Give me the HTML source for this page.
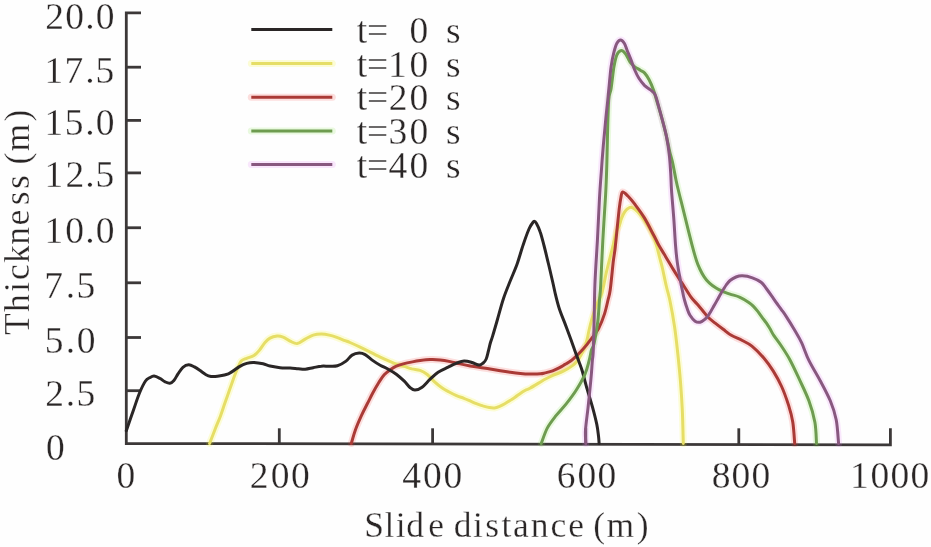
<!DOCTYPE html>
<html><head><meta charset="utf-8"><style>
html,body{margin:0;padding:0;background:#fefefe;}
body{width:931px;height:547px;overflow:hidden;font-family:"Liberation Serif",serif;}
svg{display:block;filter:blur(0.4px);}
</style></head><body>
<svg width="931" height="547" viewBox="0 0 931 547">
<rect width="931" height="547" fill="#fefefe"/>
<g stroke="#3c3838" stroke-width="2.8" fill="none" stroke-linecap="butt">
<path d="M141,12.9 H126.3 V443.5 L890.4,444.8 V428.3" stroke-linejoin="miter"/>
<path d="M126.3,67.2 H141"/>
<path d="M126.3,120.4 H141"/>
<path d="M126.3,172.9 H141"/>
<path d="M126.3,227.75 H141"/>
<path d="M126.3,282.8 H141"/>
<path d="M126.3,337.5 H141"/>
<path d="M126.3,390.7 H141"/>
<path d="M279.3,443.8 V428.3"/>
<path d="M432.6,444.0 V428.3"/>
<path d="M585.8,444.3 V428.3"/>
<path d="M738.8,444.5 V428.3"/>
</g>
<path d="M209.6,443.5 C210.6,441.0 213.5,433.3 215.3,428.7 C217.1,424.1 218.9,420.2 220.5,415.9 C222.1,411.6 223.4,407.4 224.9,403.1 C226.4,398.8 227.9,394.6 229.4,390.3 C230.9,386.1 232.6,381.2 233.9,377.6 C235.2,374.0 236.3,371.1 237.5,368.4 C238.7,365.6 239.7,362.8 241.2,361.1 C242.7,359.4 244.6,359.2 246.7,358.3 C248.8,357.4 251.9,357.0 254.0,355.6 C256.1,354.2 257.7,352.3 259.5,350.1 C261.3,347.9 263.2,344.5 265.0,342.5 C266.8,340.5 268.0,339.2 270.0,338.1 C272.0,337.0 274.9,336.3 277.1,336.1 C279.3,335.9 280.9,336.3 283.1,337.1 C285.3,337.9 287.8,340.0 290.1,341.1 C292.5,342.2 294.7,343.9 297.2,343.6 C299.7,343.3 302.5,340.5 305.2,339.1 C307.9,337.7 310.5,335.9 313.2,335.1 C315.9,334.3 318.6,334.1 321.3,334.1 C324.0,334.1 326.6,334.5 329.3,335.1 C332.0,335.7 334.8,336.7 337.4,337.6 C340.0,338.5 342.9,339.8 345.0,340.6 C347.1,341.4 347.5,341.4 350.0,342.5 C352.5,343.6 356.7,345.5 360.1,347.1 C363.5,348.7 366.9,350.4 370.2,352.1 C373.5,353.8 376.8,355.5 380.2,357.1 C383.6,358.7 387.5,360.4 390.3,361.6 C393.1,362.8 394.7,363.5 397.0,364.3 C399.3,365.1 401.8,365.6 404.3,366.4 C406.8,367.2 409.4,368.2 412.0,368.9 C414.6,369.5 417.4,369.4 420.0,370.3 C422.6,371.2 424.9,372.6 427.3,374.5 C429.7,376.4 432.2,379.6 434.6,381.8 C437.0,384.0 439.5,386.0 441.9,387.7 C444.3,389.4 446.8,390.7 449.2,392.0 C451.6,393.3 454.1,394.6 456.5,395.7 C458.9,396.8 461.6,397.4 463.9,398.3 C466.2,399.2 468.0,400.0 470.1,400.9 C472.2,401.8 474.3,402.9 476.4,403.7 C478.5,404.5 480.8,405.2 482.9,405.9 C485.0,406.5 487.4,407.3 489.3,407.6 C491.2,407.9 492.8,408.1 494.5,407.9 C496.2,407.7 497.9,407.0 499.6,406.3 C501.3,405.6 503.1,404.7 504.8,403.7 C506.5,402.7 508.3,401.6 510.0,400.5 C511.7,399.4 513.4,398.4 515.1,397.2 C516.8,396.0 518.6,394.6 520.3,393.4 C522.0,392.2 523.8,391.1 525.4,390.2 C527.0,389.3 526.7,390.0 530.0,388.2 C533.3,386.4 541.3,381.4 545.0,379.3 C548.7,377.2 549.2,377.0 552.3,375.6 C555.3,374.2 559.9,372.9 563.3,371.2 C566.7,369.5 570.5,367.1 572.8,365.4 C575.1,363.7 575.8,362.7 577.2,361.0 C578.6,359.3 579.8,357.2 581.0,355.0 C582.2,352.8 583.5,350.5 584.5,348.0 C585.5,345.5 586.2,343.0 587.0,340.0 C587.8,337.0 588.3,333.6 589.1,330.0 C589.9,326.4 590.8,322.8 592.0,318.6 C593.2,314.4 594.9,309.3 596.5,305.0 C598.1,300.7 600.2,298.6 601.9,293.0 C603.6,287.4 604.8,278.9 606.5,271.7 C608.2,264.5 610.3,256.5 612.0,249.8 C613.7,243.1 615.3,235.6 616.5,231.5 C617.7,227.4 618.5,227.7 619.3,225.5 C620.1,223.3 620.6,220.7 621.5,218.4 C622.4,216.1 623.6,213.4 624.7,211.8 C625.8,210.2 626.9,209.3 627.9,208.6 C628.9,207.8 629.8,207.2 631.0,207.3 C632.2,207.4 633.5,208.1 635.0,209.3 C636.5,210.5 638.3,212.3 640.0,214.3 C641.7,216.3 643.3,218.8 645.0,221.3 C646.7,223.8 648.5,226.7 650.0,229.5 C651.5,232.3 652.8,235.1 654.0,238.0 C655.2,240.9 656.1,243.8 657.0,247.0 C657.9,250.2 658.6,253.4 659.5,257.0 C660.4,260.6 661.4,263.6 662.5,268.5 C663.6,273.4 665.1,281.1 666.4,286.5 C667.6,291.9 668.6,294.2 670.0,301.0 C671.4,307.8 673.4,318.8 674.6,327.0 C675.8,335.2 676.4,340.8 677.4,350.0 C678.4,359.2 679.7,372.0 680.5,382.0 C681.3,392.0 681.8,399.8 682.3,410.0 C682.8,420.2 683.1,437.9 683.3,443.5" fill="none" stroke="#f4f000" stroke-opacity="0.16" stroke-width="7" stroke-linejoin="round" stroke-linecap="round"/>
<path d="M351.3,443.5 C352.0,441.2 353.7,434.5 355.4,429.9 C357.1,425.2 359.4,420.0 361.4,415.6 C363.4,411.2 365.4,407.5 367.3,403.8 C369.2,400.1 370.6,397.1 372.5,393.5 C374.4,389.9 376.9,385.6 378.8,382.5 C380.8,379.4 382.3,376.9 384.2,374.8 C386.1,372.7 388.3,371.1 390.3,369.7 C392.3,368.3 394.0,367.2 396.3,366.2 C398.6,365.2 401.6,364.3 404.3,363.6 C407.0,362.9 409.8,362.4 412.4,361.9 C415.0,361.4 417.2,361.0 420.1,360.6 C423.1,360.2 426.8,359.7 430.1,359.6 C433.5,359.5 436.9,359.6 440.2,359.9 C443.5,360.2 446.9,360.9 450.2,361.6 C453.5,362.3 456.9,363.2 460.2,363.9 C463.5,364.6 466.8,365.3 470.2,365.9 C473.6,366.5 477.0,367.0 480.3,367.5 C483.6,368.0 486.9,368.4 490.2,369.0 C493.5,369.6 496.9,370.2 500.3,370.8 C503.7,371.4 507.0,371.9 510.3,372.3 C513.6,372.7 517.1,373.1 520.4,373.4 C523.7,373.7 526.7,373.9 530.0,374.0 C533.3,374.1 537.9,374.0 540.4,373.8 C542.9,373.6 543.0,373.4 545.0,372.9 C547.0,372.4 550.2,371.7 552.6,370.8 C555.0,369.9 557.5,368.7 559.6,367.6 C561.7,366.5 563.2,365.5 565.0,364.4 C566.8,363.3 568.8,362.4 570.6,361.0 C572.4,359.6 574.2,357.9 576.0,356.3 C577.8,354.7 579.3,353.1 581.1,351.2 C582.9,349.2 585.2,346.7 586.9,344.6 C588.6,342.5 589.3,341.5 591.3,338.8 C593.3,336.1 596.5,332.5 598.7,328.3 C600.9,324.1 603.1,318.3 604.6,313.6 C606.1,308.9 607.1,303.9 608.0,300.0 C608.9,296.1 609.3,296.3 610.2,290.0 C611.1,283.7 612.4,269.1 613.2,262.2 C614.0,255.3 614.6,253.1 615.1,248.5 C615.6,243.9 616.0,239.4 616.5,234.8 C617.0,230.2 617.4,225.7 617.9,221.1 C618.4,216.5 618.9,211.4 619.4,207.4 C619.9,203.4 620.5,199.6 621.0,197.0 C621.5,194.4 621.6,192.2 622.7,192.0 C623.9,191.8 625.9,194.0 627.9,196.0 C629.9,198.0 632.0,200.5 634.8,204.2 C637.5,207.8 641.2,212.6 644.4,217.9 C647.6,223.2 651.6,231.3 654.0,235.8 C656.4,240.3 657.0,241.9 658.7,245.0 C660.4,248.1 662.3,251.0 664.1,254.1 C665.9,257.1 667.8,260.2 669.6,263.3 C671.4,266.4 673.4,269.7 675.1,272.4 C676.8,275.1 678.2,277.3 679.7,279.7 C681.2,282.1 682.3,283.6 684.2,286.5 C686.1,289.4 688.9,294.2 691.0,297.1 C693.1,300.0 695.1,301.8 697.1,304.1 C699.1,306.5 701.3,309.0 703.1,311.2 C704.9,313.4 706.1,315.2 708.1,317.2 C710.1,319.2 712.7,321.2 715.2,323.2 C717.7,325.2 720.5,327.3 723.2,329.3 C725.9,331.3 728.1,333.4 731.3,335.3 C734.5,337.2 738.9,338.7 742.3,340.5 C745.7,342.3 748.3,343.2 751.9,346.1 C755.5,349.0 760.2,353.8 763.8,358.0 C767.4,362.2 770.3,366.4 773.3,371.1 C776.3,375.9 779.0,380.8 781.6,386.5 C784.2,392.2 786.8,399.7 788.7,405.6 C790.6,411.6 791.8,415.9 792.8,422.2 C793.8,428.5 794.4,439.9 794.7,443.5" fill="none" stroke="#f03a30" stroke-opacity="0.16" stroke-width="7" stroke-linejoin="round" stroke-linecap="round"/>
<path d="M541.3,443.5 C542.3,440.9 544.9,432.5 547.4,427.9 C549.9,423.3 552.8,419.8 556.0,415.7 C559.2,411.6 563.0,407.9 566.4,403.6 C569.8,399.3 573.2,394.9 576.3,390.0 C579.4,385.1 582.9,379.0 585.0,374.1 C587.1,369.2 588.0,364.7 589.1,360.7 C590.2,356.7 590.7,352.9 591.5,350.0 C592.3,347.1 593.1,348.2 594.1,343.5 C595.1,338.8 596.9,328.8 597.8,321.5 C598.7,314.2 599.0,306.1 599.5,300.0 C600.0,293.9 600.2,294.9 600.7,285.0 C601.2,275.1 602.0,255.7 602.8,240.7 C603.6,225.7 604.9,207.6 605.6,195.0 C606.3,182.4 606.5,175.0 606.8,165.0 C607.1,155.0 607.2,145.8 607.5,135.0 C607.8,124.2 608.1,107.8 608.7,100.0 C609.3,92.2 610.2,94.1 611.1,88.5 C612.0,82.9 613.0,72.2 614.0,66.6 C615.0,61.0 615.7,57.6 616.9,54.9 C618.1,52.2 619.8,50.6 621.3,50.5 C622.8,50.4 624.2,52.1 625.7,54.1 C627.2,56.1 628.6,60.1 630.1,62.2 C631.6,64.3 632.8,65.3 634.5,66.6 C636.2,67.9 638.6,69.1 640.3,70.2 C642.0,71.3 643.2,71.5 644.7,73.1 C646.2,74.7 647.6,76.9 649.1,79.7 C650.6,82.5 652.3,86.6 653.5,90.0 C654.7,93.4 655.1,95.3 656.5,100.0 C657.9,104.7 660.2,112.2 661.9,118.3 C663.6,124.4 665.2,131.0 666.5,136.6 C667.8,142.2 668.7,147.4 669.8,152.0 C670.9,156.6 671.9,159.3 672.9,164.0 C673.9,168.7 675.1,175.7 676.0,180.0 C676.9,184.3 677.1,185.3 678.3,190.0 C679.4,194.7 681.4,202.2 682.9,208.3 C684.4,214.4 685.9,220.5 687.4,226.6 C688.9,232.7 690.5,239.1 692.0,244.8 C693.5,250.5 695.3,257.1 696.6,261.0 C697.9,264.9 698.4,265.9 699.6,268.5 C700.8,271.1 702.4,274.2 704.0,276.6 C705.6,279.1 707.5,281.3 709.5,283.2 C711.5,285.1 713.9,286.7 716.1,288.1 C718.3,289.5 720.3,290.4 722.6,291.4 C724.9,292.4 727.1,293.1 730.0,294.1 C732.9,295.1 736.9,295.9 740.0,297.3 C743.1,298.7 746.6,300.9 748.8,302.4 C751.0,303.9 751.7,304.6 753.2,306.1 C754.7,307.6 756.2,309.4 757.6,311.2 C759.0,313.0 760.5,315.2 761.9,317.1 C763.3,319.1 764.9,320.9 766.3,322.9 C767.6,324.8 768.7,326.7 770.0,328.8 C771.3,330.9 772.0,332.8 773.9,335.6 C775.8,338.4 778.5,341.7 781.2,345.8 C783.9,349.9 787.0,354.4 790.0,360.0 C793.0,365.6 796.2,372.6 799.4,379.4 C802.5,386.2 806.3,393.7 808.9,400.8 C811.5,407.9 813.6,415.1 814.9,422.2 C816.2,429.3 816.2,439.9 816.5,443.5" fill="none" stroke="#7ae040" stroke-opacity="0.16" stroke-width="7" stroke-linejoin="round" stroke-linecap="round"/>
<path d="M585.8,443.5 C585.8,441.2 585.1,436.1 585.5,430.0 C585.9,423.9 587.4,413.8 588.1,407.1 C588.8,400.4 589.3,395.5 589.9,389.7 C590.5,383.9 591.1,377.3 591.5,372.4 C591.9,367.4 592.1,363.4 592.4,360.0 C592.7,356.6 592.9,358.3 593.2,351.9 C593.5,345.5 593.8,332.6 594.1,321.5 C594.4,310.4 594.4,298.5 594.9,285.0 C595.4,271.5 596.6,254.9 597.4,240.7 C598.1,226.5 598.8,211.4 599.4,200.0 C600.0,188.6 600.6,181.1 601.3,172.0 C601.9,162.9 602.6,154.0 603.3,145.7 C604.0,137.4 604.8,129.6 605.5,122.0 C606.2,114.4 607.2,105.6 607.8,100.0 C608.4,94.4 608.3,94.1 608.9,88.5 C609.5,82.9 610.2,72.7 611.1,66.6 C612.0,60.5 613.0,55.8 614.0,51.9 C615.0,48.0 615.8,45.2 616.9,43.2 C618.0,41.2 619.4,39.9 620.6,39.9 C621.8,39.9 623.2,41.4 624.3,43.2 C625.4,45.0 626.1,47.8 627.2,50.5 C628.3,53.2 629.6,56.1 630.8,59.3 C632.0,62.5 633.1,66.3 634.5,69.5 C635.9,72.7 637.2,75.6 638.9,78.3 C640.6,81.0 642.8,83.6 644.7,85.6 C646.7,87.5 648.9,88.5 650.6,90.0 C652.3,91.5 653.8,92.1 655.0,94.4 C656.2,96.7 656.9,100.0 658.0,104.0 C659.1,108.0 660.5,112.9 661.9,118.3 C663.3,123.7 665.3,130.5 666.5,136.6 C667.7,142.7 668.6,148.7 669.3,154.8 C670.0,160.9 670.3,167.2 670.7,173.1 C671.1,179.0 671.0,182.6 671.5,190.0 C672.0,197.4 673.0,208.3 673.7,217.4 C674.4,226.5 674.9,237.2 675.5,244.8 C676.1,252.4 676.5,257.0 677.4,263.1 C678.2,269.2 679.8,276.9 680.6,281.5 C681.4,286.1 681.8,287.6 682.4,290.7 C683.0,293.8 683.7,297.1 684.5,300.0 C685.3,302.9 686.1,305.6 687.0,308.1 C687.9,310.6 688.6,313.0 690.0,315.2 C691.4,317.4 693.4,320.0 695.1,321.2 C696.8,322.4 698.4,322.5 700.1,322.2 C701.8,321.9 703.6,320.5 705.1,319.2 C706.6,317.9 707.8,316.2 709.1,314.2 C710.5,312.2 711.9,309.5 713.2,307.1 C714.6,304.8 715.9,302.5 717.2,300.1 C718.5,297.8 719.7,295.5 721.2,293.0 C722.7,290.5 724.7,287.1 726.2,285.0 C727.7,282.9 728.4,281.8 730.0,280.5 C731.6,279.2 734.0,277.8 736.0,277.0 C738.0,276.2 739.6,275.7 742.3,275.8 C745.0,275.9 749.3,276.7 752.4,277.8 C755.5,278.9 758.8,280.4 761.1,282.2 C763.4,284.0 764.5,286.2 766.3,288.5 C768.0,290.8 769.9,293.4 771.6,295.8 C773.3,298.2 775.0,300.8 776.6,303.0 C778.2,305.2 779.6,307.0 781.2,309.3 C782.8,311.6 784.1,313.2 786.3,316.6 C788.5,320.0 791.8,325.3 794.4,329.7 C797.0,334.1 799.3,337.8 801.7,342.9 C804.1,348.0 805.7,353.9 808.9,360.4 C812.1,366.9 817.2,375.1 820.8,381.8 C824.4,388.5 827.7,394.5 830.3,400.8 C832.9,407.1 834.8,412.7 836.2,419.8 C837.6,426.9 838.2,439.6 838.6,443.5" fill="none" stroke="#e070f0" stroke-opacity="0.16" stroke-width="7" stroke-linejoin="round" stroke-linecap="round"/>
<path d="M209.6,443.5 C210.6,441.0 213.5,433.3 215.3,428.7 C217.1,424.1 218.9,420.2 220.5,415.9 C222.1,411.6 223.4,407.4 224.9,403.1 C226.4,398.8 227.9,394.6 229.4,390.3 C230.9,386.1 232.6,381.2 233.9,377.6 C235.2,374.0 236.3,371.1 237.5,368.4 C238.7,365.6 239.7,362.8 241.2,361.1 C242.7,359.4 244.6,359.2 246.7,358.3 C248.8,357.4 251.9,357.0 254.0,355.6 C256.1,354.2 257.7,352.3 259.5,350.1 C261.3,347.9 263.2,344.5 265.0,342.5 C266.8,340.5 268.0,339.2 270.0,338.1 C272.0,337.0 274.9,336.3 277.1,336.1 C279.3,335.9 280.9,336.3 283.1,337.1 C285.3,337.9 287.8,340.0 290.1,341.1 C292.5,342.2 294.7,343.9 297.2,343.6 C299.7,343.3 302.5,340.5 305.2,339.1 C307.9,337.7 310.5,335.9 313.2,335.1 C315.9,334.3 318.6,334.1 321.3,334.1 C324.0,334.1 326.6,334.5 329.3,335.1 C332.0,335.7 334.8,336.7 337.4,337.6 C340.0,338.5 342.9,339.8 345.0,340.6 C347.1,341.4 347.5,341.4 350.0,342.5 C352.5,343.6 356.7,345.5 360.1,347.1 C363.5,348.7 366.9,350.4 370.2,352.1 C373.5,353.8 376.8,355.5 380.2,357.1 C383.6,358.7 387.5,360.4 390.3,361.6 C393.1,362.8 394.7,363.5 397.0,364.3 C399.3,365.1 401.8,365.6 404.3,366.4 C406.8,367.2 409.4,368.2 412.0,368.9 C414.6,369.5 417.4,369.4 420.0,370.3 C422.6,371.2 424.9,372.6 427.3,374.5 C429.7,376.4 432.2,379.6 434.6,381.8 C437.0,384.0 439.5,386.0 441.9,387.7 C444.3,389.4 446.8,390.7 449.2,392.0 C451.6,393.3 454.1,394.6 456.5,395.7 C458.9,396.8 461.6,397.4 463.9,398.3 C466.2,399.2 468.0,400.0 470.1,400.9 C472.2,401.8 474.3,402.9 476.4,403.7 C478.5,404.5 480.8,405.2 482.9,405.9 C485.0,406.5 487.4,407.3 489.3,407.6 C491.2,407.9 492.8,408.1 494.5,407.9 C496.2,407.7 497.9,407.0 499.6,406.3 C501.3,405.6 503.1,404.7 504.8,403.7 C506.5,402.7 508.3,401.6 510.0,400.5 C511.7,399.4 513.4,398.4 515.1,397.2 C516.8,396.0 518.6,394.6 520.3,393.4 C522.0,392.2 523.8,391.1 525.4,390.2 C527.0,389.3 526.7,390.0 530.0,388.2 C533.3,386.4 541.3,381.4 545.0,379.3 C548.7,377.2 549.2,377.0 552.3,375.6 C555.3,374.2 559.9,372.9 563.3,371.2 C566.7,369.5 570.5,367.1 572.8,365.4 C575.1,363.7 575.8,362.7 577.2,361.0 C578.6,359.3 579.8,357.2 581.0,355.0 C582.2,352.8 583.5,350.5 584.5,348.0 C585.5,345.5 586.2,343.0 587.0,340.0 C587.8,337.0 588.3,333.6 589.1,330.0 C589.9,326.4 590.8,322.8 592.0,318.6 C593.2,314.4 594.9,309.3 596.5,305.0 C598.1,300.7 600.2,298.6 601.9,293.0 C603.6,287.4 604.8,278.9 606.5,271.7 C608.2,264.5 610.3,256.5 612.0,249.8 C613.7,243.1 615.3,235.6 616.5,231.5 C617.7,227.4 618.5,227.7 619.3,225.5 C620.1,223.3 620.6,220.7 621.5,218.4 C622.4,216.1 623.6,213.4 624.7,211.8 C625.8,210.2 626.9,209.3 627.9,208.6 C628.9,207.8 629.8,207.2 631.0,207.3 C632.2,207.4 633.5,208.1 635.0,209.3 C636.5,210.5 638.3,212.3 640.0,214.3 C641.7,216.3 643.3,218.8 645.0,221.3 C646.7,223.8 648.5,226.7 650.0,229.5 C651.5,232.3 652.8,235.1 654.0,238.0 C655.2,240.9 656.1,243.8 657.0,247.0 C657.9,250.2 658.6,253.4 659.5,257.0 C660.4,260.6 661.4,263.6 662.5,268.5 C663.6,273.4 665.1,281.1 666.4,286.5 C667.6,291.9 668.6,294.2 670.0,301.0 C671.4,307.8 673.4,318.8 674.6,327.0 C675.8,335.2 676.4,340.8 677.4,350.0 C678.4,359.2 679.7,372.0 680.5,382.0 C681.3,392.0 681.8,399.8 682.3,410.0 C682.8,420.2 683.1,437.9 683.3,443.5" fill="none" stroke="#e6de66" stroke-width="3" stroke-linejoin="round" stroke-linecap="round"/>
<path d="M351.3,443.5 C352.0,441.2 353.7,434.5 355.4,429.9 C357.1,425.2 359.4,420.0 361.4,415.6 C363.4,411.2 365.4,407.5 367.3,403.8 C369.2,400.1 370.6,397.1 372.5,393.5 C374.4,389.9 376.9,385.6 378.8,382.5 C380.8,379.4 382.3,376.9 384.2,374.8 C386.1,372.7 388.3,371.1 390.3,369.7 C392.3,368.3 394.0,367.2 396.3,366.2 C398.6,365.2 401.6,364.3 404.3,363.6 C407.0,362.9 409.8,362.4 412.4,361.9 C415.0,361.4 417.2,361.0 420.1,360.6 C423.1,360.2 426.8,359.7 430.1,359.6 C433.5,359.5 436.9,359.6 440.2,359.9 C443.5,360.2 446.9,360.9 450.2,361.6 C453.5,362.3 456.9,363.2 460.2,363.9 C463.5,364.6 466.8,365.3 470.2,365.9 C473.6,366.5 477.0,367.0 480.3,367.5 C483.6,368.0 486.9,368.4 490.2,369.0 C493.5,369.6 496.9,370.2 500.3,370.8 C503.7,371.4 507.0,371.9 510.3,372.3 C513.6,372.7 517.1,373.1 520.4,373.4 C523.7,373.7 526.7,373.9 530.0,374.0 C533.3,374.1 537.9,374.0 540.4,373.8 C542.9,373.6 543.0,373.4 545.0,372.9 C547.0,372.4 550.2,371.7 552.6,370.8 C555.0,369.9 557.5,368.7 559.6,367.6 C561.7,366.5 563.2,365.5 565.0,364.4 C566.8,363.3 568.8,362.4 570.6,361.0 C572.4,359.6 574.2,357.9 576.0,356.3 C577.8,354.7 579.3,353.1 581.1,351.2 C582.9,349.2 585.2,346.7 586.9,344.6 C588.6,342.5 589.3,341.5 591.3,338.8 C593.3,336.1 596.5,332.5 598.7,328.3 C600.9,324.1 603.1,318.3 604.6,313.6 C606.1,308.9 607.1,303.9 608.0,300.0 C608.9,296.1 609.3,296.3 610.2,290.0 C611.1,283.7 612.4,269.1 613.2,262.2 C614.0,255.3 614.6,253.1 615.1,248.5 C615.6,243.9 616.0,239.4 616.5,234.8 C617.0,230.2 617.4,225.7 617.9,221.1 C618.4,216.5 618.9,211.4 619.4,207.4 C619.9,203.4 620.5,199.6 621.0,197.0 C621.5,194.4 621.6,192.2 622.7,192.0 C623.9,191.8 625.9,194.0 627.9,196.0 C629.9,198.0 632.0,200.5 634.8,204.2 C637.5,207.8 641.2,212.6 644.4,217.9 C647.6,223.2 651.6,231.3 654.0,235.8 C656.4,240.3 657.0,241.9 658.7,245.0 C660.4,248.1 662.3,251.0 664.1,254.1 C665.9,257.1 667.8,260.2 669.6,263.3 C671.4,266.4 673.4,269.7 675.1,272.4 C676.8,275.1 678.2,277.3 679.7,279.7 C681.2,282.1 682.3,283.6 684.2,286.5 C686.1,289.4 688.9,294.2 691.0,297.1 C693.1,300.0 695.1,301.8 697.1,304.1 C699.1,306.5 701.3,309.0 703.1,311.2 C704.9,313.4 706.1,315.2 708.1,317.2 C710.1,319.2 712.7,321.2 715.2,323.2 C717.7,325.2 720.5,327.3 723.2,329.3 C725.9,331.3 728.1,333.4 731.3,335.3 C734.5,337.2 738.9,338.7 742.3,340.5 C745.7,342.3 748.3,343.2 751.9,346.1 C755.5,349.0 760.2,353.8 763.8,358.0 C767.4,362.2 770.3,366.4 773.3,371.1 C776.3,375.9 779.0,380.8 781.6,386.5 C784.2,392.2 786.8,399.7 788.7,405.6 C790.6,411.6 791.8,415.9 792.8,422.2 C793.8,428.5 794.4,439.9 794.7,443.5" fill="none" stroke="#aa3a36" stroke-width="3" stroke-linejoin="round" stroke-linecap="round"/>
<path d="M126.3,430.7 C127.5,427.2 131.3,416.3 133.5,410.0 C135.7,403.7 137.5,397.8 139.5,393.0 C141.5,388.2 143.8,383.5 145.5,381.0 C147.2,378.5 148.1,378.6 149.5,377.8 C150.9,377.0 152.4,375.9 154.1,376.0 C155.8,376.1 158.1,377.4 159.9,378.4 C161.7,379.3 163.2,380.9 164.8,381.7 C166.5,382.5 168.3,383.5 169.8,383.3 C171.3,383.1 172.5,382.1 173.9,380.5 C175.3,378.9 176.5,376.1 178.0,373.9 C179.5,371.7 181.1,368.8 182.9,367.3 C184.7,365.8 186.8,364.9 188.7,364.8 C190.6,364.7 192.5,365.9 194.4,366.9 C196.3,367.9 198.3,369.3 200.2,370.6 C202.1,371.9 204.2,373.7 206.0,374.7 C207.8,375.7 209.1,376.1 211.0,376.4 C212.9,376.6 214.5,376.6 217.4,376.2 C220.3,375.8 224.7,375.5 228.4,373.9 C232.1,372.3 236.4,368.4 239.4,366.6 C242.4,364.9 244.3,364.1 246.7,363.4 C249.1,362.7 251.3,362.4 254.0,362.5 C256.7,362.6 260.4,363.2 263.1,363.8 C265.8,364.4 267.2,365.4 270.0,366.0 C272.8,366.6 276.8,367.4 280.1,367.7 C283.5,368.0 287.1,367.8 290.1,368.0 C293.1,368.2 295.7,368.5 298.2,368.7 C300.7,368.9 302.7,369.4 305.2,369.2 C307.7,369.0 310.5,368.2 313.2,367.7 C315.9,367.2 318.6,366.4 321.3,366.2 C324.0,365.9 326.6,366.3 329.3,366.2 C332.0,366.1 334.6,366.5 337.4,365.7 C340.2,364.9 343.6,362.9 346.0,361.1 C348.4,359.3 349.9,356.4 352.1,355.1 C354.3,353.8 356.9,353.2 359.1,353.1 C361.3,353.0 362.9,353.4 365.1,354.6 C367.3,355.8 369.7,358.3 372.2,360.1 C374.7,361.9 377.5,363.7 380.2,365.2 C382.9,366.7 385.5,367.7 388.2,369.2 C390.9,370.7 393.6,372.2 396.3,374.2 C399.0,376.2 402.0,379.0 404.3,381.2 C406.6,383.4 408.2,386.0 410.0,387.5 C411.8,389.0 413.0,390.2 415.0,390.1 C417.0,390.1 419.6,389.0 422.1,387.2 C424.6,385.4 427.4,381.7 430.1,379.2 C432.8,376.7 435.1,374.2 438.1,372.2 C441.1,370.2 445.2,368.6 448.2,367.1 C451.2,365.6 453.5,364.3 456.2,363.3 C458.9,362.3 461.5,361.1 464.1,361.0 C466.8,360.9 469.6,361.8 472.1,362.5 C474.6,363.2 477.2,365.0 479.1,365.1 C481.0,365.2 482.0,364.0 483.2,363.0 C484.4,362.0 485.3,361.0 486.2,359.0 C487.1,357.0 487.7,353.6 488.4,351.0 C489.1,348.4 489.5,346.0 490.2,343.5 C490.9,341.0 491.4,340.0 492.6,336.1 C493.8,332.2 495.5,326.3 497.3,320.0 C499.1,313.7 501.3,305.1 503.5,298.5 C505.7,291.9 508.2,286.1 510.5,280.3 C512.8,274.5 515.2,269.5 517.3,263.5 C519.4,257.5 521.3,250.2 523.3,244.5 C525.2,238.8 527.5,232.5 529.0,229.0 C530.5,225.5 531.4,224.6 532.3,223.3 C533.2,222.0 533.5,221.3 534.2,221.3 C534.9,221.3 535.5,221.7 536.5,223.5 C537.5,225.3 539.0,228.3 540.2,232.0 C541.5,235.7 542.6,240.2 544.0,245.5 C545.4,250.8 547.0,257.9 548.5,264.0 C550.0,270.1 551.5,276.9 552.7,282.0 C553.9,287.1 554.4,290.1 555.5,294.6 C556.6,299.2 557.9,304.4 559.5,309.3 C561.1,314.2 563.2,318.9 565.1,323.9 C567.0,328.9 569.3,335.1 570.9,339.5 C572.5,343.9 573.3,346.3 574.6,350.0 C575.9,353.7 577.6,357.9 578.9,361.5 C580.2,365.1 581.0,366.8 582.4,371.5 C583.8,376.2 585.6,383.8 587.3,389.7 C589.0,395.6 590.9,401.3 592.5,407.1 C594.1,412.9 595.8,419.6 596.8,424.4 C597.8,429.2 598.1,432.8 598.5,436.0 C598.9,439.2 599.0,442.2 599.1,443.5" fill="none" stroke="#2a2626" stroke-width="3" stroke-linejoin="round" stroke-linecap="round"/>
<path d="M541.3,443.5 C542.3,440.9 544.9,432.5 547.4,427.9 C549.9,423.3 552.8,419.8 556.0,415.7 C559.2,411.6 563.0,407.9 566.4,403.6 C569.8,399.3 573.2,394.9 576.3,390.0 C579.4,385.1 582.9,379.0 585.0,374.1 C587.1,369.2 588.0,364.7 589.1,360.7 C590.2,356.7 590.7,352.9 591.5,350.0 C592.3,347.1 593.1,348.2 594.1,343.5 C595.1,338.8 596.9,328.8 597.8,321.5 C598.7,314.2 599.0,306.1 599.5,300.0 C600.0,293.9 600.2,294.9 600.7,285.0 C601.2,275.1 602.0,255.7 602.8,240.7 C603.6,225.7 604.9,207.6 605.6,195.0 C606.3,182.4 606.5,175.0 606.8,165.0 C607.1,155.0 607.2,145.8 607.5,135.0 C607.8,124.2 608.1,107.8 608.7,100.0 C609.3,92.2 610.2,94.1 611.1,88.5 C612.0,82.9 613.0,72.2 614.0,66.6 C615.0,61.0 615.7,57.6 616.9,54.9 C618.1,52.2 619.8,50.6 621.3,50.5 C622.8,50.4 624.2,52.1 625.7,54.1 C627.2,56.1 628.6,60.1 630.1,62.2 C631.6,64.3 632.8,65.3 634.5,66.6 C636.2,67.9 638.6,69.1 640.3,70.2 C642.0,71.3 643.2,71.5 644.7,73.1 C646.2,74.7 647.6,76.9 649.1,79.7 C650.6,82.5 652.3,86.6 653.5,90.0 C654.7,93.4 655.1,95.3 656.5,100.0 C657.9,104.7 660.2,112.2 661.9,118.3 C663.6,124.4 665.2,131.0 666.5,136.6 C667.8,142.2 668.7,147.4 669.8,152.0 C670.9,156.6 671.9,159.3 672.9,164.0 C673.9,168.7 675.1,175.7 676.0,180.0 C676.9,184.3 677.1,185.3 678.3,190.0 C679.4,194.7 681.4,202.2 682.9,208.3 C684.4,214.4 685.9,220.5 687.4,226.6 C688.9,232.7 690.5,239.1 692.0,244.8 C693.5,250.5 695.3,257.1 696.6,261.0 C697.9,264.9 698.4,265.9 699.6,268.5 C700.8,271.1 702.4,274.2 704.0,276.6 C705.6,279.1 707.5,281.3 709.5,283.2 C711.5,285.1 713.9,286.7 716.1,288.1 C718.3,289.5 720.3,290.4 722.6,291.4 C724.9,292.4 727.1,293.1 730.0,294.1 C732.9,295.1 736.9,295.9 740.0,297.3 C743.1,298.7 746.6,300.9 748.8,302.4 C751.0,303.9 751.7,304.6 753.2,306.1 C754.7,307.6 756.2,309.4 757.6,311.2 C759.0,313.0 760.5,315.2 761.9,317.1 C763.3,319.1 764.9,320.9 766.3,322.9 C767.6,324.8 768.7,326.7 770.0,328.8 C771.3,330.9 772.0,332.8 773.9,335.6 C775.8,338.4 778.5,341.7 781.2,345.8 C783.9,349.9 787.0,354.4 790.0,360.0 C793.0,365.6 796.2,372.6 799.4,379.4 C802.5,386.2 806.3,393.7 808.9,400.8 C811.5,407.9 813.6,415.1 814.9,422.2 C816.2,429.3 816.2,439.9 816.5,443.5" fill="none" stroke="#6e9c50" stroke-width="3" stroke-linejoin="round" stroke-linecap="round"/>
<path d="M585.8,443.5 C585.8,441.2 585.1,436.1 585.5,430.0 C585.9,423.9 587.4,413.8 588.1,407.1 C588.8,400.4 589.3,395.5 589.9,389.7 C590.5,383.9 591.1,377.3 591.5,372.4 C591.9,367.4 592.1,363.4 592.4,360.0 C592.7,356.6 592.9,358.3 593.2,351.9 C593.5,345.5 593.8,332.6 594.1,321.5 C594.4,310.4 594.4,298.5 594.9,285.0 C595.4,271.5 596.6,254.9 597.4,240.7 C598.1,226.5 598.8,211.4 599.4,200.0 C600.0,188.6 600.6,181.1 601.3,172.0 C601.9,162.9 602.6,154.0 603.3,145.7 C604.0,137.4 604.8,129.6 605.5,122.0 C606.2,114.4 607.2,105.6 607.8,100.0 C608.4,94.4 608.3,94.1 608.9,88.5 C609.5,82.9 610.2,72.7 611.1,66.6 C612.0,60.5 613.0,55.8 614.0,51.9 C615.0,48.0 615.8,45.2 616.9,43.2 C618.0,41.2 619.4,39.9 620.6,39.9 C621.8,39.9 623.2,41.4 624.3,43.2 C625.4,45.0 626.1,47.8 627.2,50.5 C628.3,53.2 629.6,56.1 630.8,59.3 C632.0,62.5 633.1,66.3 634.5,69.5 C635.9,72.7 637.2,75.6 638.9,78.3 C640.6,81.0 642.8,83.6 644.7,85.6 C646.7,87.5 648.9,88.5 650.6,90.0 C652.3,91.5 653.8,92.1 655.0,94.4 C656.2,96.7 656.9,100.0 658.0,104.0 C659.1,108.0 660.5,112.9 661.9,118.3 C663.3,123.7 665.3,130.5 666.5,136.6 C667.7,142.7 668.6,148.7 669.3,154.8 C670.0,160.9 670.3,167.2 670.7,173.1 C671.1,179.0 671.0,182.6 671.5,190.0 C672.0,197.4 673.0,208.3 673.7,217.4 C674.4,226.5 674.9,237.2 675.5,244.8 C676.1,252.4 676.5,257.0 677.4,263.1 C678.2,269.2 679.8,276.9 680.6,281.5 C681.4,286.1 681.8,287.6 682.4,290.7 C683.0,293.8 683.7,297.1 684.5,300.0 C685.3,302.9 686.1,305.6 687.0,308.1 C687.9,310.6 688.6,313.0 690.0,315.2 C691.4,317.4 693.4,320.0 695.1,321.2 C696.8,322.4 698.4,322.5 700.1,322.2 C701.8,321.9 703.6,320.5 705.1,319.2 C706.6,317.9 707.8,316.2 709.1,314.2 C710.5,312.2 711.9,309.5 713.2,307.1 C714.6,304.8 715.9,302.5 717.2,300.1 C718.5,297.8 719.7,295.5 721.2,293.0 C722.7,290.5 724.7,287.1 726.2,285.0 C727.7,282.9 728.4,281.8 730.0,280.5 C731.6,279.2 734.0,277.8 736.0,277.0 C738.0,276.2 739.6,275.7 742.3,275.8 C745.0,275.9 749.3,276.7 752.4,277.8 C755.5,278.9 758.8,280.4 761.1,282.2 C763.4,284.0 764.5,286.2 766.3,288.5 C768.0,290.8 769.9,293.4 771.6,295.8 C773.3,298.2 775.0,300.8 776.6,303.0 C778.2,305.2 779.6,307.0 781.2,309.3 C782.8,311.6 784.1,313.2 786.3,316.6 C788.5,320.0 791.8,325.3 794.4,329.7 C797.0,334.1 799.3,337.8 801.7,342.9 C804.1,348.0 805.7,353.9 808.9,360.4 C812.1,366.9 817.2,375.1 820.8,381.8 C824.4,388.5 827.7,394.5 830.3,400.8 C832.9,407.1 834.8,412.7 836.2,419.8 C837.6,426.9 838.2,439.6 838.6,443.5" fill="none" stroke="#88587f" stroke-width="3" stroke-linejoin="round" stroke-linecap="round"/>
<path d="M251.3,29.6 H332.3" stroke="#2a2626" stroke-width="3"/>
<path d="M251.3,63.4 H332.3" stroke="#f4f000" stroke-opacity="0.16" stroke-width="7" stroke-linecap="round"/>
<path d="M251.3,63.4 H332.3" stroke="#e6de66" stroke-width="3"/>
<path d="M251.3,97.3 H332.3" stroke="#f03a30" stroke-opacity="0.16" stroke-width="7" stroke-linecap="round"/>
<path d="M251.3,97.3 H332.3" stroke="#aa3a36" stroke-width="3"/>
<path d="M251.3,131.0 H332.3" stroke="#7ae040" stroke-opacity="0.16" stroke-width="7" stroke-linecap="round"/>
<path d="M251.3,131.0 H332.3" stroke="#6e9c50" stroke-width="3"/>
<path d="M251.3,164.5 H332.3" stroke="#e070f0" stroke-opacity="0.16" stroke-width="7" stroke-linecap="round"/>
<path d="M251.3,164.5 H332.3" stroke="#88587f" stroke-width="3"/>
<g font-family="Liberation Serif" fill="#2a2626" stroke="#fefefe" stroke-width="0.3">
<text x="45.14 65.22 85.21 95.83" y="28.5" font-size="37.5">20.0</text>
<text x="44.40 64.53 85.21 95.47" y="82.9" font-size="37.5">17.5</text>
<text x="44.40 64.87 85.21 95.83" y="135.4" font-size="37.5">15.0</text>
<text x="44.40 65.44 85.21 95.47" y="187.0" font-size="37.5">12.5</text>
<text x="44.40 65.22 85.21 95.83" y="242.7" font-size="37.5">10.0</text>
<text x="44.33 65.71 76.47" y="297.9" font-size="37.5">7.5</text>
<text x="44.67 65.71 76.83" y="353.1" font-size="37.5">5.0</text>
<text x="45.24 65.71 76.47" y="405.6" font-size="37.5">2.5</text>
<text x="46.12" y="460.1" font-size="37.5">0</text>
<text x="116.53" y="488.4" font-size="37.5">0</text>
<text x="249.74 270.82 291.02" y="488.4" font-size="37.5">200</text>
<text x="402.35 423.12 443.62" y="488.4" font-size="37.5">400</text>
<text x="556.68 577.42 597.62" y="488.4" font-size="37.5">600</text>
<text x="711.73 731.42 751.42" y="488.4" font-size="37.5">800</text>
<text x="849.90 870.42 890.62 910.42" y="488.4" font-size="37.5">1000</text>
<text x="364.14 384.47 395.73 406.30 428.24 445.99 453.80 473.03 485.21 501.60 512.94 530.69 550.59 568.24 585.99 593.28 606.60 636.70" y="536.5" font-size="35.5">Slide distance (m)</text>
<text transform="rotate(-90)" x="-335.07 -312.01 -292.07 -280.11 -262.91 -244.81 -225.56 -205.29 -188.99 -171.24 -164.42 -151.50 -121.40" y="28.8" font-size="35.5">Thickness (m)</text>
<text x="356.72 367.01 385.76 409.43 428.18 446.11" y="42.7" font-size="37.5">t= 0 s</text>
<text x="356.72 367.01 388.10 409.43 428.18 446.11" y="76.5" font-size="37.5">t=10 s</text>
<text x="356.72 367.01 388.84 409.43 428.18 446.11" y="110.4" font-size="37.5">t=20 s</text>
<text x="356.72 367.01 388.46 409.43 428.18 446.11" y="144.1" font-size="37.5">t=30 s</text>
<text x="356.72 367.01 388.55 409.43 428.18 446.11" y="177.6" font-size="37.5">t=40 s</text>
</g>
</svg>
</body></html>
